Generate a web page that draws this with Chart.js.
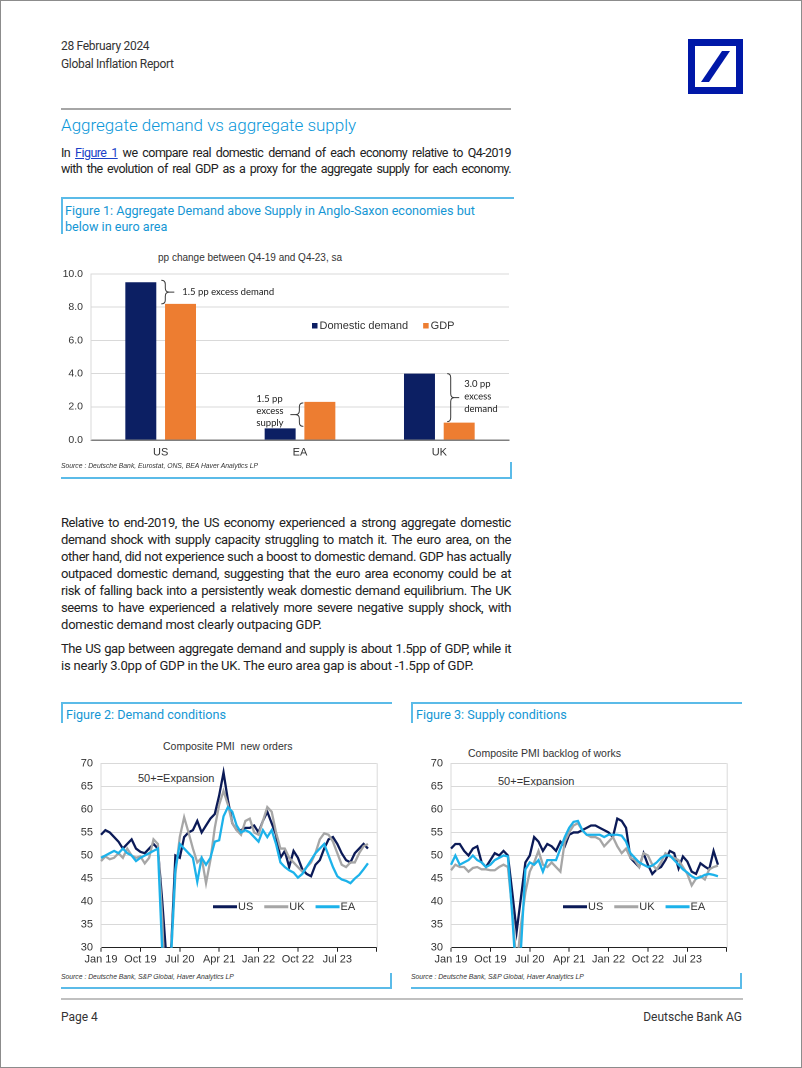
<!DOCTYPE html>
<html>
<head>
<meta charset="utf-8">
<script src="https://cdn.jsdelivr.net/npm/chart.js@4.4.1/dist/chart.umd.min.js"></script>
<style>
html, body { margin: 0; padding: 0; background: #fff; }
#page { position: relative; width: 802px; height: 1068px; box-sizing: border-box; border: 1px solid #8c8c8c; overflow: hidden; font-family: Roboto, "Liberation Sans", sans-serif; color: #222; }
.t { position: absolute; white-space: nowrap; line-height: 16px; }
.rule { position: absolute; }
.blue { background: #5bbbe8; }
.fig { color: #1496d4; font-size: 12.6px; }
.body { font-size: 13px; left: 60px; width: 450px; text-align: justify; text-align-last: justify; letter-spacing: -0.4px; }
.body.last { text-align-last: left; letter-spacing: -0.2px; }
.tight { font-size: 12.5px; letter-spacing: -0.55px; word-spacing: -1px; }
.src { font-family: "Liberation Sans", sans-serif; font-style: italic; font-size: 6.8px; color: #333; line-height: 10px; }
.ctitle { font-family: "Liberation Sans", sans-serif; font-size: 10.5px; color: #333; }
canvas { position: absolute; }
a { color: #1a3fc8; text-decoration: underline; }
</style>
</head>
<body>
<div id="page">
  <div class="t" style="left:60px;top:37px;font-size:12px;letter-spacing:-0.3px;color:#333;">28 February 2024</div>
  <div class="t" style="left:60px;top:55px;font-size:12px;letter-spacing:-0.3px;color:#333;">Global Inflation Report</div>
  <svg style="position:absolute;left:687px;top:38px;" width="55" height="55">
    <rect x="0" y="0" width="55" height="55" fill="#0018a8"/>
    <rect x="7" y="7" width="41" height="41" fill="#fff"/>
    <polygon points="13,43 21,43 42,12 34,12" fill="#0018a8"/>
  </svg>

  <div class="rule" style="left:60px;top:107px;width:450px;height:2px;background:#a6a6a6;"></div>
  <div class="t" style="left:60px;top:113px;font-size:17px;line-height:22px;font-weight:300;color:#0a97d9;">Aggregate demand vs aggregate supply</div>

  <div class="t body tight" style="top:144px;">In <a>Figure 1</a> we compare real domestic demand of each economy relative to Q4-2019</div>
  <div class="t body tight" style="top:160px;">with the evolution of real GDP as a proxy for the aggregate supply for each economy.</div>

  <!-- Figure 1 frame -->
  <div class="rule blue" style="left:60px;top:196px;width:453px;height:2px;"></div>
  <div class="rule blue" style="left:60px;top:196px;width:2px;height:37px;"></div>
  <div class="t fig" style="left:64px;top:202px;">Figure 1: Aggregate Demand above Supply in Anglo-Saxon economies but</div>
  <div class="t fig" style="left:64px;top:218px;">below in euro area</div>
  <div class="t ctitle" style="left:157px;top:249px;font-size:10px;">pp change between Q4-19 and Q4-23, sa</div>
  <canvas id="fig1" width="452" height="200" style="left:60px;top:262px;width:452px;height:200px;"></canvas>
  <div class="t src" style="left:60px;top:460px;">Source : Deutsche Bank, Eurostat, ONS, BEA Haver Analytics LP</div>
  <div class="rule blue" style="left:509px;top:461px;width:2px;height:17px;"></div>
  <div class="rule blue" style="left:60px;top:476px;width:451px;height:2px;"></div>

  <div class="t body" style="top:514px;">Relative to end-2019, the US economy experienced a strong aggregate domestic</div>
  <div class="t body" style="top:531px;">demand shock with supply capacity struggling to match it. The euro area, on the</div>
  <div class="t body" style="top:548px;">other hand, did not experience such a boost to domestic demand. GDP has actually</div>
  <div class="t body" style="top:565px;">outpaced domestic demand, suggesting that the euro area economy could be at</div>
  <div class="t body" style="top:582px;">risk of falling back into a persistently weak domestic demand equilibrium. The UK</div>
  <div class="t body" style="top:599px;">seems to have experienced a relatively more severe negative supply shock, with</div>
  <div class="t body last" style="top:616px;">domestic demand most clearly outpacing GDP.</div>
  <div class="t body" style="top:640px;">The US gap between aggregate demand and supply is about 1.5pp of GDP, while it</div>
  <div class="t body last" style="top:657px;">is nearly 3.0pp of GDP in the UK. The euro area gap is about -1.5pp of GDP.</div>

  <!-- Figure 2 frame -->
  <div class="rule blue" style="left:60px;top:701px;width:331px;height:2px;"></div>
  <div class="rule blue" style="left:60px;top:701px;width:2px;height:21px;"></div>
  <div class="t fig" style="left:65px;top:706px;">Figure 2: Demand conditions</div>
  <div class="t ctitle" style="left:162px;top:737px;">Composite PMI &nbsp;new orders</div>
  <div class="t ctitle" style="left:137px;top:769px;font-size:11px;">50+=Expansion</div>
  <canvas id="fig2" width="322" height="215" style="left:60px;top:752px;width:322px;height:215px;"></canvas>
  <div class="t src" style="left:60px;top:971px;">Source : Deutsche Bank, S&amp;P Global, Haver Analytics LP</div>
  <div class="rule blue" style="left:389px;top:972px;width:2px;height:16px;"></div>
  <div class="rule blue" style="left:60px;top:986px;width:331px;height:2px;"></div>

  <!-- Figure 3 frame -->
  <div class="rule blue" style="left:410px;top:701px;width:331px;height:2px;"></div>
  <div class="rule blue" style="left:410px;top:701px;width:2px;height:21px;"></div>
  <div class="t fig" style="left:415px;top:706px;">Figure 3: Supply conditions</div>
  <div class="t ctitle" style="left:467px;top:744px;">Composite PMI backlog of works</div>
  <div class="t ctitle" style="left:497px;top:772px;font-size:11px;">50+=Expansion</div>
  <canvas id="fig3" width="322" height="215" style="left:410px;top:752px;width:322px;height:215px;"></canvas>
  <div class="t src" style="left:410px;top:971px;">Source : Deutsche Bank, S&amp;P Global, Haver Analytics LP</div>
  <div class="rule blue" style="left:739px;top:972px;width:2px;height:16px;"></div>
  <div class="rule blue" style="left:410px;top:986px;width:331px;height:2px;"></div>

  <div class="rule" style="left:60px;top:997px;width:682px;height:2px;background:#c0c0c0;"></div>
  <div class="t" style="left:60px;top:1008px;font-size:12px;color:#333;">Page 4</div>
  <div class="t" style="right:59px;top:1008px;font-size:12px;color:#333;">Deutsche Bank AG</div>
</div>

<script>
// Figure 1 data
const countries = ['US', 'EA', 'UK'];
const domesticDemand = [9.5, 0.7, 4.0];
const gdp = [8.2, 2.3, 1.05];
const gapNotes = [['1.5 pp excess demand'], ['1.5 pp', 'excess', 'supply'], ['3.0 pp', 'excess', 'demand']];

// Figures 2 and 3: monthly, Jan 19 .. Apr 24 axis, data to Feb 24
const months = ['Jan 19','Feb 19','Mar 19','Apr 19','May 19','Jun 19','Jul 19','Aug 19','Sep 19','Oct 19','Nov 19','Dec 19',
  'Jan 20','Feb 20','Mar 20','Apr 20','May 20','Jun 20','Jul 20','Aug 20','Sep 20','Oct 20','Nov 20','Dec 20',
  'Jan 21','Feb 21','Mar 21','Apr 21','May 21','Jun 21','Jul 21','Aug 21','Sep 21','Oct 21','Nov 21','Dec 21',
  'Jan 22','Feb 22','Mar 22','Apr 22','May 22','Jun 22','Jul 22','Aug 22','Sep 22','Oct 22','Nov 22','Dec 22',
  'Jan 23','Feb 23','Mar 23','Apr 23','May 23','Jun 23','Jul 23','Aug 23','Sep 23','Oct 23','Nov 23','Dec 23',
  'Jan 24','Feb 24','Mar 24','Apr 24'];
const pmiTicks = [30, 35, 40, 45, 50, 55, 60, 65, 70];

// Composite PMI new orders
const ordersUS = [54.5,55.5,55,54,53,51.5,52.5,53.5,51.5,50.8,50.5,51.5,52.5,51.5,40,27,29,50,49.5,54,55,55.5,57.5,55,
  56.5,58,59,63,68,62,57,55.5,55.5,56,56,56.5,55,57.5,59.5,57,54.5,49.5,51,47.5,51,49.5,47,46,
  45.5,48,49,51.5,53.5,54,52.5,50.5,49,48.5,50.5,51.5,52.5,51.5];
const ordersUK = [48.8,49.8,49.2,49.5,50.5,49.5,51.5,50,49.5,49.8,48.3,49.5,53.5,52.5,36,12,28,46,54,58.3,55,51.5,48.5,49.5,
  44,49,56,61,64,61,57,55.5,54.5,57.5,58,55,54.5,57.5,60.5,59.5,55,51.5,51.5,49.5,48.5,47.5,46.5,47.5,
  48.5,50.5,53.5,54.8,54.5,53,50.5,48,47.5,48.5,48.5,50.5,52,52.5];
const ordersEA = [49.5,50,50.5,51,50.5,51.5,50.5,50,48.8,49.5,50,50.5,51,51.5,29,12,28,47,52.5,51.5,50.5,49.5,44.3,49.5,
  48,49.5,53,53.3,58.5,60.5,59.5,56.5,55,55.5,55,54,53,55.5,54,55.5,52.5,48.5,47.5,46.8,46.3,45.2,46,47.5,
  49,50.5,51.5,52.5,50,47.5,45.5,44.8,44.5,44,45,45.8,47,48.3];

// Composite PMI backlog of work
const backlogUS = [51.5,52.5,52.5,51,50,51.5,52,48.5,47.5,49,50.5,50,51,50,42,33.5,41,48.5,50,54,53,51,52.5,52,
  51,53,52,54.5,55,55,55.5,56,56.5,56.5,56,55.5,55,54,58,57.5,56,49.5,48.5,47.5,50.5,48,46,47,
  47.5,49,51,50.5,47.2,49.8,48.7,46.5,46,48.3,47.6,47,51,48];
const backlogUK = [46.8,48,47.5,47.5,46.5,47.3,47.5,47,47,46.8,46.8,47.5,48,47.5,38,26,35,42,46.5,48.5,51,48,47.5,48.5,
  47.5,46.5,53,55,56.5,57,55.5,54.5,54,54,53.5,52,53,54,52,50.5,51.5,49.5,49,47.5,50.5,50,48,47,
  48.5,50.5,49.8,49.5,49,47.5,46,43.5,45,45.5,44.8,47,47.5,47.8];
const backlogEA = [48,50,48,48.5,49,50,49,48.5,47.5,48,49,49.5,50,49.8,37,22,30,47,48.5,48,49,46.5,49,49,
  49,51.5,54,56,57.3,57.5,55.5,54.5,54.5,54.5,54.5,54,54.5,54.5,54.5,54.3,53,50.5,49.5,48.5,48,47.5,47.8,48.5,
  49.5,50,50,49,48,47,46.3,45.5,45,45.3,45.8,46,45.8,45.5];

const NAVY = '#0c1f63', ORANGE = '#ed7d31';
const LINE_US = '#0b1a57', LINE_UK = '#a6a6a6', LINE_EA = '#1cb2ea';
const FONT = '"Liberation Sans", Arial, sans-serif';

function drawBrace(ctx, x, y1, y2, w, dir) {
  const m = (y1 + y2) / 2, r = Math.min(4, (y2 - y1) / 4);
  const xm = x + dir * w / 2, xt = x + dir * w;
  ctx.beginPath();
  ctx.moveTo(x, y1);
  ctx.quadraticCurveTo(xm, y1, xm, y1 + r);
  ctx.lineTo(xm, m - r);
  ctx.quadraticCurveTo(xm, m, xt, m);
  ctx.quadraticCurveTo(xm, m, xm, m + r);
  ctx.lineTo(xm, y2 - r);
  ctx.quadraticCurveTo(xm, y2, x, y2);
  ctx.moveTo(xt, m);
  ctx.lineTo(xt + dir * 5, m);
  ctx.stroke();
}

// braces + notes between the two bars of each country
const gapBraces = {
  id: 'gapBraces',
  afterDatasetsDraw(chart) {
    const { ctx, scales: { y } } = chart;
    const dd = chart.getDatasetMeta(0).data, gd = chart.getDatasetMeta(1).data;
    ctx.save();
    ctx.strokeStyle = '#3a3a3a';
    ctx.lineWidth = 1;
    ctx.fillStyle = '#222';
    ctx.font = '9.5px Lato, sans-serif';
    ctx.textBaseline = 'middle';
    ctx.textAlign = 'left';

    // US: pointing right
    let top = y.getPixelForValue(domesticDemand[0]) - 2, bot = y.getPixelForValue(gdp[0]);
    let x0 = dd[0].x + dd[0].width / 2 + 5;
    drawBrace(ctx, x0, top, bot, 8, 1);
    ctx.fillText(gapNotes[0][0], x0 + 21, (top + bot) / 2);

    // EA: pointing left
    top = y.getPixelForValue(gdp[1]) + 1;
    bot = y.getPixelForValue(domesticDemand[1]) - 2;
    x0 = gd[1].x - gd[1].width / 2 - 1;
    drawBrace(ctx, x0, top, bot, 8, -1);
    let mid = (top + bot) / 2;
    gapNotes[1].forEach((s, i) => ctx.fillText(s, x0 - 47, mid - 15.5 + i * 12));

    // UK: pointing right
    top = y.getPixelForValue(domesticDemand[2]);
    bot = y.getPixelForValue(gdp[2]) - 1;
    x0 = gd[2].x - gd[2].width / 2 + 3.5;
    drawBrace(ctx, x0, top, bot, 7, 1);
    mid = (top + bot) / 2;
    gapNotes[2].forEach((s, i) => ctx.fillText(s, x0 + 17, mid - 13.5 + i * 12.5));
    ctx.restore();
  }
};

// box legend inside the bar chart
const boxLegend = {
  id: 'boxLegend',
  afterDraw(chart) {
    const { ctx, chartArea } = chart;
    ctx.save();
    ctx.font = '11px ' + FONT;
    ctx.textBaseline = 'middle';
    let x = chartArea.left + 221;
    const yy = chartArea.top + 52;
    chart.data.datasets.forEach(ds => {
      ctx.fillStyle = ds.backgroundColor;
      ctx.fillRect(x, yy - 3, 5.5, 5.5);
      ctx.fillStyle = '#333';
      ctx.fillText(ds.label, x + 7.5, yy);
      x += 7.5 + ctx.measureText(ds.label).width + 15;
    });
    ctx.restore();
  }
};

new Chart(document.getElementById('fig1'), {
  type: 'bar',
  data: {
    labels: countries,
    datasets: [
      { label: 'Domestic demand', data: domesticDemand, backgroundColor: NAVY },
      { label: 'GDP', data: gdp, backgroundColor: ORANGE }
    ]
  },
  options: {
    responsive: false,
    animation: false,
    devicePixelRatio: 2,
    layout: { padding: { top: 11, right: 4, bottom: 4, left: 0 } },
    datasets: { bar: { categoryPercentage: 0.57, barPercentage: 0.78 } },
    plugins: { legend: { display: false }, tooltip: { enabled: false } },
    scales: {
      x: {
        grid: { display: false, drawTicks: false },
        border: { color: '#7f7f7f', width: 1.5 },
        ticks: { color: '#333', font: { family: FONT, size: 11 }, padding: 6 },
        afterFit(s) { s.height = 19; }
      },
      y: {
        min: 0, max: 10,
        ticks: { stepSize: 2, color: '#333', font: { family: FONT, size: 10.5 }, padding: 8,
          callback: v => v.toFixed(1) },
        grid: { color: '#d9d9d9', drawTicks: false },
        border: { color: '#d9d9d9' },
        afterFit(s) { s.width = 30; s.paddingTop = 0; s.paddingBottom = 0; }
      }
    }
  },
  plugins: [gapBraces, boxLegend]
});

// line legend + right frame for the PMI charts
const lineLegend = {
  id: 'lineLegend',
  afterDraw(chart) {
    const { ctx, chartArea } = chart;
    ctx.save();
    ctx.strokeStyle = '#d9d9d9';
    ctx.lineWidth = 1;
    ctx.beginPath();
    ctx.moveTo(chartArea.right + 0.5, chartArea.top);
    ctx.lineTo(chartArea.right + 0.5, chartArea.bottom);
    ctx.stroke();
    ctx.font = '11px ' + FONT;
    ctx.textBaseline = 'middle';
    let x = chartArea.left + 112;
    const yy = chartArea.top + 143.5;
    chart.data.datasets.forEach(ds => {
      ctx.strokeStyle = ds.borderColor;
      ctx.lineWidth = 3;
      ctx.beginPath();
      ctx.moveTo(x, yy);
      ctx.lineTo(x + 24, yy);
      ctx.stroke();
      ctx.fillStyle = '#333';
      ctx.fillText(ds.label, x + 25, yy);
      x += 25 + ctx.measureText(ds.label).width + 11;
    });
    ctx.restore();
  }
};

function pmiChart(id, us, uk, ea) {
  return new Chart(document.getElementById(id), {
    type: 'line',
    data: {
      labels: months,
      datasets: [
        { label: 'US', data: us, borderColor: LINE_US, order: 3 },
        { label: 'UK', data: uk, borderColor: LINE_UK, order: 2 },
        { label: 'EA', data: ea, borderColor: LINE_EA, order: 1 }
      ]
    },
    options: {
      responsive: false,
      animation: false,
      devicePixelRatio: 2,
      layout: { padding: { top: 10.3, right: 6.3, bottom: 3.3, left: 0 } },
      elements: { line: { borderWidth: 2.3, tension: 0 }, point: { radius: 0 } },
      plugins: { legend: { display: false }, tooltip: { enabled: false } },
      scales: {
        x: {
          offset: false,
          grid: {
            drawOnChartArea: false, tickLength: 4,
            color: c => (c.index % 9 === 0 ? '#222' : 'rgba(0,0,0,0)')
          },
          border: { color: '#222', width: 1 },
          ticks: {
            autoSkip: false, maxRotation: 0, padding: 1,
            color: '#333', font: { family: FONT, size: 11 },
            callback: (v, i) => (i % 9 === 0 && i < 63 ? months[i] : '')
          },
          afterFit(s) { s.height = 17; s.paddingLeft = 0; s.paddingRight = 0; }
        },
        y: {
          min: pmiTicks[0], max: pmiTicks[pmiTicks.length - 1],
          afterBuildTicks(s) { s.ticks = pmiTicks.map(v => ({ value: v })); },
          ticks: { color: '#333', font: { family: FONT, size: 11 }, padding: 8 },
          grid: { color: '#d9d9d9', drawTicks: false },
          border: { color: '#d9d9d9' },
          afterFit(s) { s.width = 40; s.paddingTop = 0; s.paddingBottom = 0; }
        }
      }
    },
    plugins: [lineLegend]
  });
}

pmiChart('fig2', ordersUS, ordersUK, ordersEA);
pmiChart('fig3', backlogUS, backlogUK, backlogEA);
</script>
</body>
</html>
